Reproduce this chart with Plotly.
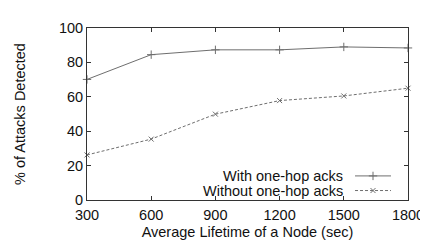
import plotly.graph_objects as go

lifetimes = [300, 600, 900, 1200, 1500, 1800]
with_acks = [70.1, 84.5, 87.3, 87.3, 89.0, 88.4]
without_acks = [26.2, 35.4, 49.9, 57.8, 60.5, 65.0]
series_names = ["With one-hop acks", "Without one-hop acks"]
x_ticks = [300, 600, 900, 1200, 1500, 1800]
y_ticks = [0, 20, 40, 60, 80, 100]

FONT = "Liberation Sans, Arial, Helvetica, sans-serif"
LINE_COLOR = "#6e6e6e"
TEXT_COLOR = "#111111"

fig = go.Figure()
fig.add_trace(go.Scatter(
    x=lifetimes, y=with_acks, mode="lines+markers", name=series_names[0],
    line=dict(color=LINE_COLOR, width=1),
    marker=dict(symbol="cross-thin", size=6, line=dict(color=LINE_COLOR, width=1)),
    showlegend=False, cliponaxis=False))
fig.add_trace(go.Scatter(
    x=lifetimes, y=without_acks, mode="lines+markers", name=series_names[1],
    line=dict(color=LINE_COLOR, width=1, dash="3px,2px"),
    marker=dict(symbol="x-thin", size=5, line=dict(color=LINE_COLOR, width=1)),
    showlegend=False, cliponaxis=False))

# manual legend (text left, sample right) on an overlay axis in 0..1 units
leg_y = [0.14, 0.055]
for i, (nm, sym, dash, sz) in enumerate([
        (series_names[0], "cross-thin", "solid", 6),
        (series_names[1], "x-thin", "3px,2px", 5)]):
    fig.add_trace(go.Scatter(
        x=[0.835, 0.947], y=[leg_y[i], leg_y[i]], mode="lines", xaxis="x2", yaxis="y2",
        line=dict(color=LINE_COLOR, width=1, dash=dash), showlegend=False, hoverinfo="skip"))
    fig.add_trace(go.Scatter(
        x=[0.891], y=[leg_y[i]], mode="markers", xaxis="x2", yaxis="y2",
        marker=dict(symbol=sym, size=sz, line=dict(color=LINE_COLOR, width=1)),
        showlegend=False, hoverinfo="skip"))
    fig.add_annotation(x=0.805, y=leg_y[i], xref="x2", yref="y2", text=nm,
                       showarrow=False, xanchor="right", yanchor="middle",
                       font=dict(size=14.5, color=TEXT_COLOR, family=FONT))

axis_common = dict(showgrid=False, zeroline=False, showline=True, linecolor="#333333",
                   linewidth=1, mirror="allticks", ticks="inside", ticklen=4,
                   tickcolor="#333333",
                   tickfont=dict(size=14.5, color=TEXT_COLOR, family=FONT))

fig.update_layout(
    width=428, height=242,
    margin=dict(l=76, r=17, t=16, b=43),
    paper_bgcolor="white", plot_bgcolor="white",
    font=dict(family=FONT, size=14.5, color=TEXT_COLOR),
    xaxis=dict(range=[300, 1800], tickvals=x_ticks, ticklabelstandoff=2,
               title=dict(text="Average Lifetime of a Node (sec)", standoff=4,
                          font=dict(size=14.5, family=FONT)),
               **axis_common),
    yaxis=dict(range=[0, 100], tickvals=y_ticks,
               title=dict(text="% of Attacks Detected", standoff=29,
                          font=dict(size=14.5, family=FONT)),
               **axis_common),
    xaxis2=dict(range=[0, 1], overlaying="x", visible=False, fixedrange=True),
    yaxis2=dict(range=[0, 1], overlaying="y", visible=False, fixedrange=True),
)

fig.write_html("out.html")
